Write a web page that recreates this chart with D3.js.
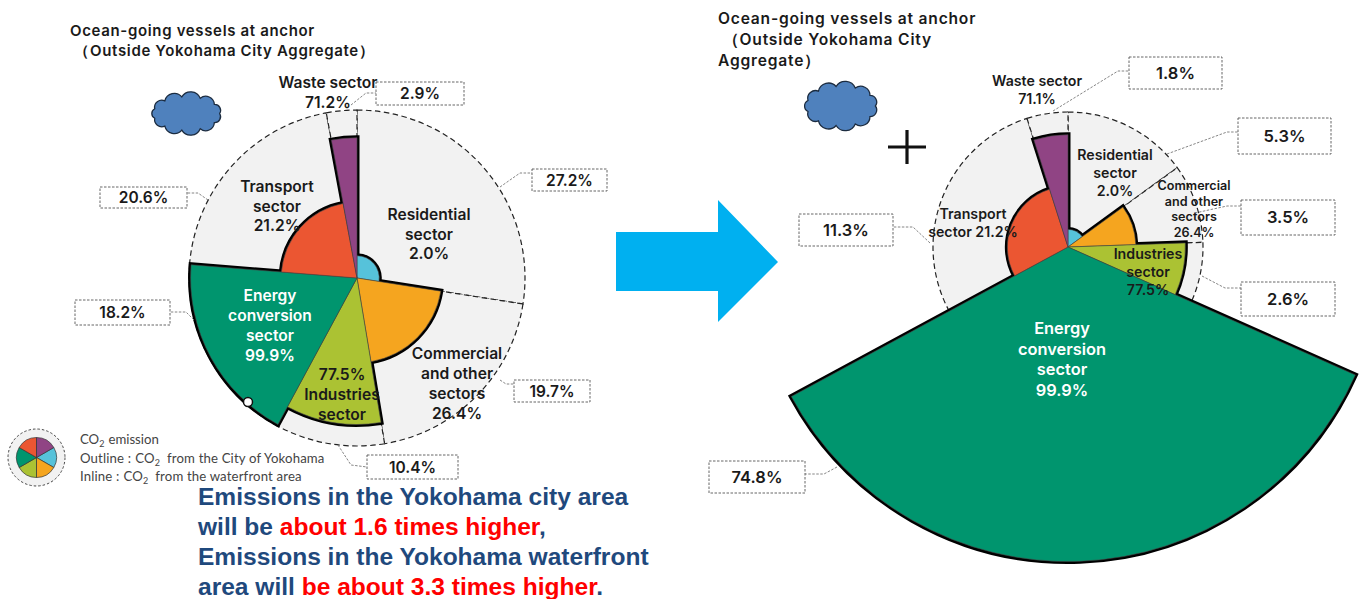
<!DOCTYPE html>
<html>
<head>
<meta charset="utf-8">
<script src="https://cdn.jsdelivr.net/npm/d3@7"></script>
<style>
  html, body { margin: 0; padding: 0; background: #fff; overflow: hidden; }
  svg { display: block; }
  text { font-family: Inter, "Noto Sans", sans-serif; font-weight: 600; fill: #1a1a1a; }
</style>
</head>
<body>
<svg id="chart" width="1365" height="599"></svg>
<script>
// sectors, clockwise from 12 o'clock
const sectors = ['Residential', 'Commercial', 'Industries', 'Energy', 'Transport', 'Waste'];
const colors = ['#56c2da', '#f5a51f', '#abc233', '#00956e', '#eb5632', '#904484'];

// left pie: outline share sets the angle, inline share sets the area
const leftOutline = [27.2, 19.7, 10.4, 18.2, 20.6, 2.9];
const leftInline = [2.0, 26.4, 77.5, 99.9, 21.2, 71.2];

// right pie: printed shares
const rightOutline = [5.3, 3.5, 2.6, 74.8, 11.3, 1.8];
// the picture is not drawn to those shares, so angles are measured off it (degrees)
const rightSweep = [54, 34, 26, 127.6, 100.7, 17.7];
// energy wedge overshoots the dashed circle in the picture, 548 reproduces its measured radius
const rightInline = [2.0, 26.4, 77.5, 548, 21.2, 71.1];

const leftTexts = [
  ['Residential', 'sector', '2.0%'],
  ['Commercial', 'and other', 'sectors', '26.4%'],
  ['77.5%', 'Industries', 'sector'],
  ['Energy', 'conversion', 'sector', '99.9%'],
  ['Transport', 'sector', '21.2%'],
  ['Waste sector', '71.2%']
];
const rightTexts = [
  ['Residential', 'sector', '2.0%'],
  ['Commercial', 'and other', 'sectors', '26.4%'],
  ['Industries', 'sector', '77.5%'],
  ['Energy', 'conversion', 'sector', '99.9%'],
  ['Transport', 'sector 21.2%'],
  ['Waste sector', '71.1%']
];

const legendLines = ['emission', 'from the City of Yokohama', 'from the waterfront area'];

const svg = d3.select('#chart');

// x, y of first line, line step, font size
const leftLabelPos = [
  [429, 220, 19.7, 15.6], [457, 359, 20, 15.6], [342, 380, 20, 15.6],
  [270, 301, 20, 15.6], [277, 192, 19.7, 15.6], [328, 88, 20, 15.6]
];
const rightLabelPos = [
  [1115, 160, 18, 14.2], [1194, 190, 15.6, 12.6], [1148, 259, 18, 14.2],
  [1062, 334, 20.7, 16.4], [973, 219, 18, 14.2], [1037, 86, 17.5, 14.2]
];
// box x, y, w, h then leader polyline
const leftBoxes = [
  [532, 169, 75, 22, [[500, 187], [520, 173], [532, 173]]],
  [514, 380, 76, 22, [[500, 380], [506, 384], [514, 384]]],
  [367, 455, 91, 24, [[338, 445], [351, 465], [367, 467]]],
  [75, 300, 95, 25, [[194, 320], [186, 312], [170, 312]]],
  [100, 187, 87, 21, [[208, 200], [198, 193], [187, 193]]],
  [376, 82, 88, 23, [[351, 105], [366, 93], [376, 93]]]
];
const rightBoxes = [
  [1238, 118, 93, 36, [[1167, 154], [1227, 132], [1238, 132]]],
  [1241, 200, 94, 35, [[1195, 213], [1227, 206], [1241, 206]]],
  [1241, 282, 94, 34, [[1202, 276], [1225, 288], [1241, 288]]],
  [709, 461, 96, 32, [[837, 467], [824, 474], [805, 474]]],
  [799, 214, 94, 32, [[930, 243], [913, 227], [893, 227]]],
  [1129, 57, 93, 32, [[1053, 111], [1118, 71], [1129, 71]]]
];

function drawPie(cx, cy, R, angleValues, inlineValues) {
  const g = svg.append('g').attr('transform', 'translate(' + cx + ',' + cy + ')');
  const radius = d3.scaleSqrt().domain([0, 100]).range([0, R]);
  const slices = d3.pie().sort(null).value(d => d)(angleValues);
  const outer = d3.arc().innerRadius(0).outerRadius(R);
  // 1.5 off so the black edge sits on the measured radius instead of outside it
  const inner = d3.arc().innerRadius(0).outerRadius(d => radius(inlineValues[d.index]) - 1.5);

  g.selectAll('path.outline').data(slices).enter().append('path')
    .attr('class', 'outline')
    .attr('d', outer)
    .attr('fill', '#f2f2f2')
    .attr('stroke', '#222')
    .attr('stroke-width', 1.2)
    .attr('stroke-dasharray', '5.5 3.5');

  // wide stroke under the fills: it only survives where a wedge borders the grey
  g.selectAll('path.edge').data(slices).enter().append('path')
    .attr('class', 'edge')
    .attr('d', inner)
    .attr('fill', 'none')
    .attr('stroke', '#000')
    .attr('stroke-width', 5)
    .attr('stroke-linejoin', 'miter');

  g.selectAll('path.wedge').data(slices).enter().append('path')
    .attr('class', 'wedge')
    .attr('d', inner)
    .attr('fill', (d, i) => colors[i])
    .attr('stroke', '#444')
    .attr('stroke-width', 0.6);
  return g;
}

function drawLabels(texts, pos) {
  texts.forEach((lines, i) => {
    const p = pos[i];
    const t = svg.append('text')
      .attr('text-anchor', 'middle')
      .attr('font-size', p[3])
      .style('fill', sectors[i] === 'Energy' ? '#fff' : '#1a1a1a');
    lines.forEach((line, j) => {
      t.append('tspan').attr('x', p[0]).attr('y', p[1] + j * p[2]).text(line);
    });
  });
}

function drawBoxes(values, boxes, fontSize) {
  const line = d3.line();
  boxes.forEach((b, i) => {
    svg.append('path').attr('d', line(b[4]))
      .attr('fill', 'none').attr('stroke', '#777')
      .attr('stroke-width', 0.9).attr('stroke-dasharray', '2.5 1.5');
    svg.append('rect')
      .attr('x', b[0]).attr('y', b[1]).attr('width', b[2]).attr('height', b[3])
      .attr('fill', '#fff').attr('stroke', '#555')
      .attr('stroke-width', 0.9).attr('stroke-dasharray', '2.5 1.5');
    svg.append('text')
      .attr('x', b[0] + b[2] / 2).attr('y', b[1] + b[3] / 2)
      .attr('dy', '0.36em').attr('text-anchor', 'middle')
      .attr('font-size', fontSize)
      .text(d3.format('.1f')(values[i]) + '%');
  });
}

function drawCloud(x, y, w, h) {
  // scalloped ellipse: one small arc from each rim point to the next
  const n = 11, cx = x + w / 2, cy = y + h / 2;
  const rx = w / 2 - w * 0.07, ry = h / 2 - h * 0.09;
  const rim = d3.range(n).map(i => {
    const a = i / n * 2 * Math.PI;
    return [cx + rx * Math.cos(a), cy + ry * Math.sin(a)];
  });
  let d = 'M' + rim[0];
  rim.forEach((p, i) => {
    const q = rim[(i + 1) % n];
    const r = Math.hypot(q[0] - p[0], q[1] - p[1]) * 0.56;
    d += 'A' + r + ',' + r + ' 0 0 1 ' + q;
  });
  svg.append('path').attr('d', d + 'Z')
    .attr('fill', '#4f81bd').attr('stroke', '#1c2c40').attr('stroke-width', 1.3);
}

function drawTitle(x, lines, y0, step, size, spacing) {
  const t = svg.append('text').attr('font-size', size).style('letter-spacing', spacing + 'px');
  lines.forEach((l, j) => t.append('tspan').attr('x', x).attr('y', y0 + j * step).text(l));
}

// left pie
drawPie(357, 278, 168, leftOutline, leftInline);
svg.append('circle').attr('cx', 248).attr('cy', 402).attr('r', 4.5)
  .attr('fill', '#fff').attr('stroke', '#111').attr('stroke-width', 1.5);
drawBoxes(leftOutline, leftBoxes, 15.5);
drawLabels(leftTexts, leftLabelPos);
drawTitle(70, ['Ocean-going vessels at anchor', ' \uFF08Outside Yokohama City Aggregate\uFF09'], 36, 20, 15, 0.65);
drawCloud(148, 93, 77, 41);

// right pie
drawPie(1068, 247, 135, rightSweep, rightInline);
drawBoxes(rightOutline, rightBoxes, 16.5);
drawLabels(rightTexts, rightLabelPos);
drawTitle(718, ['Ocean-going vessels at anchor', ' \uFF08Outside Yokohama City', 'Aggregate\uFF09'], 24, 21, 15.6, 0.8);
drawCloud(801, 82, 80, 48);

// plus sign
svg.append('path').attr('d', d3.line()([[888, 147], [926, 147]])).attr('stroke', '#111').attr('stroke-width', 3.2);
svg.append('path').attr('d', d3.line()([[907, 130], [907, 164]])).attr('stroke', '#111').attr('stroke-width', 3.2);

// arrow between the pies
svg.append('path')
  .attr('d', d3.line()([[616, 232], [718, 232], [718, 200], [778, 262], [718, 322], [718, 291], [616, 291]]) + 'Z')
  .attr('fill', '#00b0f0');

// legend, blue slice starts at 2 o'clock so purple lands top right
const legend = svg.append('g').attr('transform', 'translate(36.5,457.5)');
legend.append('circle').attr('r', 28.5).attr('fill', '#f2f2f2')
  .attr('stroke', '#333').attr('stroke-width', 0.9).attr('stroke-dasharray', '2.5 2');
const legendPie = d3.pie().sort(null).value(1).startAngle(Math.PI / 3).endAngle(Math.PI / 3 + 2 * Math.PI);
legend.selectAll('path').data(legendPie(sectors)).enter().append('path')
  .attr('d', d3.arc().innerRadius(0).outerRadius(20))
  .attr('fill', (d, i) => colors[i])
  .attr('stroke', '#333').attr('stroke-width', 0.7);

function co2(t, dx) {
  t.append('tspan').attr('dx', dx).text('CO');
  t.append('tspan').attr('font-size', 9).attr('dy', 3).text('2');
}
const legendFont = 'Lato, "Open Sans", sans-serif';
[[444, '', 0], [463, 'Outline :', 4], [481, 'Inline :', 4]].forEach((row, i) => {
  const t = svg.append('text').attr('x', 80).attr('y', row[0]).attr('font-size', 13.2)
    .style('font-family', legendFont).style('font-weight', 400).style('fill', '#444')
    .style('letter-spacing', i ? '0.15px' : '0');
  if (row[1]) t.append('tspan').text(row[1]);
  co2(t, row[2]);
  t.append('tspan').attr('dy', -3).attr('dx', i ? 7 : 4).text(legendLines[i]);
});

// conclusion text
const blue = '#1f497d', red = '#ff0000';
[
  [505, [['Emissions in the Yokohama city area', blue]]],
  [535, [['will be ', blue], ['about 1.6 times higher', red], [',', blue]]],
  [565, [['Emissions in the Yokohama waterfront', blue]]],
  [595, [['area will ', blue], ['be about 3.3 times higher', red], ['.', blue]]]
].forEach(row => {
  const t = svg.append('text').attr('x', 198).attr('y', row[0]).attr('font-size', 24.55)
    .style('font-family', '"Liberation Sans", Arial, sans-serif').style('font-weight', 700);
  row[1].forEach(run => t.append('tspan').style('fill', run[1]).text(run[0]));
});
</script>
</body>
</html>
